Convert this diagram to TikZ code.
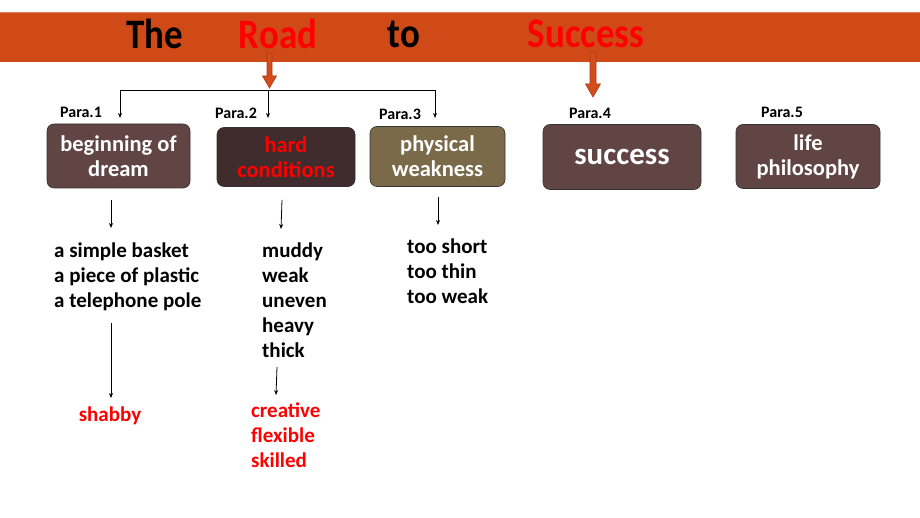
\documentclass[tikz,border=0pt]{standalone}
\usepackage{fontspec}
\setmainfont{Carlito}
\newfontfamily\titlefont[FakeStretch=0.88]{Carlito}
\usetikzlibrary{arrows.meta}
\definecolor{banner}{HTML}{D04A18}
\definecolor{boxa}{HTML}{614545}
\definecolor{boxb}{HTML}{402C2C}
\definecolor{boxc}{HTML}{7A6A4A}
\definecolor{oarrow}{HTML}{D24C1C}
\definecolor{txtred}{HTML}{FF0000}
\tikzset{
  card/.style={draw=black!80, line width=0.6pt, rounded corners=7pt, inner sep=0pt, align=center,
     font=\bfseries\fontsize{22.5}{25}\selectfont, text=white},
  paralabel/.style={font=\bfseries\fontsize{16}{18}\selectfont, inner sep=0pt},
  listtext/.style={font=\bfseries\fontsize{21}{25}\selectfont, align=left, inner sep=0pt, anchor=north west},
  conn/.style={line width=0.8pt, -{Stealth[length=5pt,width=4pt]}},
  titletext/.style={font=\titlefont\bfseries\fontsize{42}{44}\selectfont, inner sep=0pt},
  bigarrow/.style={draw=oarrow!80!black, fill=oarrow, line width=0.6pt}
}
\begin{document}
\begin{tikzpicture}[x=1pt,y=-1pt]
\useasboundingbox (0,0) rectangle (920,518);
\fill[white] (0,0) rectangle (920,518);
% banner
\fill[banner] (0,12) rectangle (920,62);
\draw[banner!70!white, line width=1pt] (0,12.5) -- (920,12.5);
\node[titletext] (tThe) at (155,34) {The};
\node[titletext, text=txtred] (tRoad) at (278,34) {Road};
\node[titletext] (tto) at (404,34) {to};
\node[titletext, text=txtred] (tSuccess) at (586,34) {Success};
% orange block arrows
\draw[bigarrow] (267,53) -- (272,53) -- (272,76) -- (276.5,76) -- (269.5,88) -- (262.5,76) -- (267,76) -- cycle;
\draw[bigarrow] (590,52) -- (596,52) -- (596,84) -- (600.5,84) -- (593,97) -- (585.5,84) -- (590,84) -- cycle;
% boxes
\node[card, fill=boxa, minimum width=143pt, minimum height=64pt] (b1) at (118.5,156) {beginning of\\dream};
\node[card, fill=boxb, minimum width=138pt, minimum height=59pt, text=txtred] (b2) at (286,157) {hard\\conditions};
\node[card, fill=boxc, minimum width=135pt, minimum height=60pt] (b3) at (437.5,156.5) {physical\\weakness};
\node[card, fill=boxa, minimum width=158pt, minimum height=65pt, font=\bfseries\fontsize{31}{34}\selectfont] (b4) at (622,157) {success};
\node[card, fill=boxa, minimum width=144pt, minimum height=64pt] (b5) at (808,156.5) {life\\philosophy};
% para labels
\node[paralabel] (p1) at (81,112) {Para.1};
\node[paralabel] (p2) at (236,113) {Para.2};
\node[paralabel] (p3) at (400,114) {Para.3};
\node[paralabel] (p4) at (590,113) {Para.4};
\node[paralabel] (p5) at (782,112) {Para.5};
% bracket
\coordinate (bl) at (120,90);
\coordinate (bm) at (268,90);
\coordinate (br) at (435,90);
\coordinate (b1t) at (120,118);
\coordinate (b2t) at (268,118);
\coordinate (b3t) at (435,118);
\draw[line width=0.8pt] (bl) -- (br);
\draw[conn] (bl) -- (b1t);
\draw[conn] (bm) -- (b2t);
\draw[conn] (br) -- (b3t);
% lists
\node[listtext] (l1) at (54,243) {a simple basket\\a piece of plastic\\a telephone pole};
\node[listtext] (l2) at (262,243) {muddy\\weak\\uneven\\heavy\\thick};
\node[listtext] (l3) at (407,239) {too short\\too thin\\too weak};
\node[listtext, text=txtred, anchor=center] (r1) at (110,416) {shabby};
\node[listtext, text=txtred] (r2) at (251,403) {creative\\flexible\\skilled};
% small arrows
\coordinate (a1s) at (111,200); \coordinate (a1e) at (111,228);
\coordinate (a2s) at (282,200); \coordinate (a2e) at (281,229);
\coordinate (a3s) at (438,197); \coordinate (a3e) at (438,225);
\coordinate (a4s) at (111,323); \coordinate (a4e) at (111,398);
\coordinate (a5s) at (277,367); \coordinate (a5e) at (276,395);
\draw[conn] (a1s) -- (a1e);
\draw[conn] (a2s) -- (a2e);
\draw[conn] (a3s) -- (a3e);
\draw[conn] (a4s) -- (a4e);
\draw[conn] (a5s) -- (a5e);
\end{tikzpicture}
\end{document}
